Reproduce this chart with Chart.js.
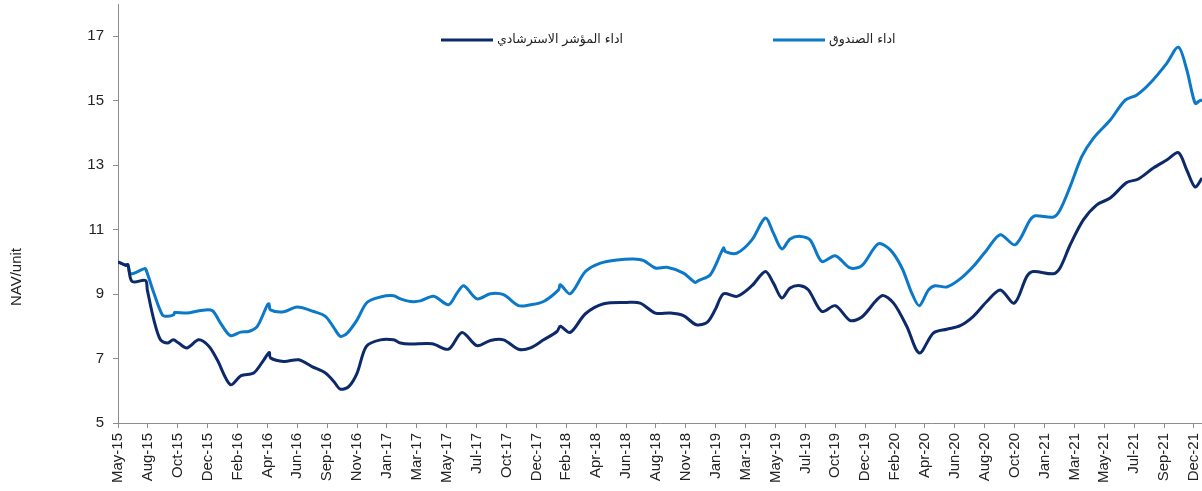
<!DOCTYPE html>
<html>
<head>
<meta charset="utf-8">
<script src="https://cdn.jsdelivr.net/npm/chart.js@4.4.1/dist/chart.umd.min.js"></script>
<style>
  body { margin: 0; background: #fff; }
  #wrap { width: 1202px; height: 491px; position: relative; }
</style>
</head>
<body>
<div id="wrap"><canvas id="navChart"></canvas></div>
<script>
// Etiquetas do eixo X (uma por marca)
const xTickLabels = ['May-15','Aug-15','Oct-15','Dec-15','Feb-16','Apr-16','Jun-16','Sep-16','Nov-16','Jan-17',
  'Mar-17','May-17','Jul-17','Oct-17','Dec-17','Feb-18','Apr-18','Jun-18','Aug-18','Nov-18',
  'Jan-19','Mar-19','May-19','Jul-19','Oct-19','Dec-19','Feb-20','Apr-20','Jun-20','Aug-20',
  'Oct-20','Jan-21','Mar-21','May-21','Jul-21','Sep-21','Dec-21'];

const yTickValues = [5, 7, 9, 11, 13, 15, 17];

// Desempenho do fundo (posição em unidades de marca do eixo X)
const fundX = [0,0.25,0.33,0.42,0.89,0.94,1.20,1.48,1.65,1.87,
  1.89,2.31,2.76,3.15,3.43,3.76,4.10,4.37,4.66,4.99,
  5.05,5.10,5.55,5.99,6.55,6.94,7.22,7.44,7.67,8.00,
  8.33,8.78,9.22,9.45,9.78,10.12,10.56,11.06,11.34,11.57,
  12.01,12.46,12.90,13.40,13.80,14.24,14.74,14.80,15.13,15.64,
  16.14,16.70,17.25,17.59,17.98,18.37,18.92,19.31,19.42,19.82,
  20.26,20.32,20.71,21.21,21.66,21.93,22.21,22.49,22.83,23.16,
  23.55,24.00,24.50,24.89,25.44,25.84,26.23,26.56,26.81,27.12,
  27.34,27.73,28.18,28.62,29.07,29.52,30.02,30.52,30.69,31.30,
  31.52,31.86,32.25,32.64,33.20,33.70,34.09,34.53,35.09,35.48,
  35.76,36.04,36.20,36.27];
const fundY = [10.0,9.91,9.91,9.63,9.79,9.75,9.03,8.36,8.31,8.36,
  8.43,8.41,8.49,8.49,8.10,7.71,7.82,7.84,8.0,8.65,
  8.70,8.51,8.45,8.60,8.46,8.31,7.96,7.69,7.79,8.20,
  8.74,8.91,8.95,8.85,8.77,8.79,8.93,8.67,9.03,9.26,
  8.85,9.01,8.98,8.64,8.67,8.77,9.13,9.29,9.01,9.70,
  9.96,10.06,10.09,10.04,9.81,9.83,9.65,9.36,9.42,9.60,
  10.43,10.32,10.27,10.68,11.36,10.89,10.40,10.71,10.79,10.68,
  10.01,10.19,9.81,9.88,10.56,10.37,9.81,9.03,8.64,9.13,
  9.26,9.22,9.47,9.86,10.37,10.84,10.53,11.30,11.43,11.39,
  11.61,12.34,13.27,13.84,14.40,15.02,15.18,15.54,16.16,16.66,
  15.96,14.92,15.0,15.02];

// Desempenho do índice de referência
const benchX = [0,0.25,0.33,0.47,0.92,0.98,1.20,1.42,1.65,1.85,
  2.03,2.31,2.70,3.04,3.32,3.76,4.12,4.54,4.88,5.06,
  5.10,5.55,6.05,6.49,6.94,7.22,7.44,7.72,8.00,8.31,
  8.78,9.22,9.45,9.78,10.51,11.06,11.51,12.01,12.46,12.90,
  13.40,13.80,14.24,14.69,14.80,15.13,15.64,16.25,17.03,17.47,
  17.98,18.48,18.92,19.35,19.71,19.98,20.26,20.71,21.21,21.66,
  21.93,22.21,22.49,22.83,23.10,23.55,24.00,24.50,24.89,25.56,
  25.95,26.39,26.81,27.28,27.73,28.18,28.62,29.07,29.52,29.99,
  30.41,30.63,31.30,31.52,31.86,32.30,32.75,33.20,33.75,34.14,
  34.64,35.09,35.48,35.76,36.04,36.27];
const benchY = [10.0,9.89,9.91,9.39,9.42,9.13,8.20,7.58,7.48,7.58,
  7.48,7.33,7.58,7.38,6.96,6.19,6.47,6.55,6.96,7.19,
  7.02,6.91,6.96,6.75,6.55,6.29,6.05,6.13,6.55,7.38,
  7.58,7.58,7.48,7.45,7.46,7.29,7.81,7.40,7.56,7.58,
  7.29,7.33,7.58,7.84,8.0,7.81,8.39,8.70,8.74,8.72,
  8.41,8.41,8.33,8.05,8.12,8.51,9.01,8.93,9.26,9.70,
  9.34,8.88,9.19,9.26,9.13,8.46,8.64,8.18,8.29,8.95,
  8.72,8.0,7.17,7.79,7.91,8.02,8.31,8.77,9.13,8.72,
  9.55,9.70,9.63,9.81,10.53,11.30,11.77,11.98,12.46,12.57,
  12.91,13.16,13.39,12.85,12.32,12.60];

const benchLabel = 'اداء المؤشر الاسترشادي';
const fundLabel = 'اداء الصندوق';
const yTitle = 'NAV/unit';

const axisColor = '#8c8c8c';
const textColor = '#222';

function toPoints(xs, ys) {
    return xs.map((x, i) => ({ x: x, y: ys[i] }));
}

// Legenda desenhada dentro da área do gráfico
const insideLegend = {
    id: 'insideLegend',
    afterDraw(chart) {
        const { ctx, chartArea } = chart;
        const offsets = [323, 655];
        const y = chartArea.top + 36;
        ctx.save();
        ctx.font = '12.5px "DejaVu Sans", sans-serif';
        ctx.textBaseline = 'middle';
        ctx.textAlign = 'left';
        chart.data.datasets.forEach((ds, i) => {
            const x0 = chartArea.left + offsets[i];
            ctx.strokeStyle = ds.borderColor;
            ctx.lineWidth = 3;
            ctx.beginPath();
            ctx.moveTo(x0, y);
            ctx.lineTo(x0 + 52, y);
            ctx.stroke();
            ctx.fillStyle = textColor;
            ctx.fillText(ds.label, x0 + 56, y);
        });
        ctx.restore();
    }
};

// Título do eixo Y (fora do centro, como no original)
const yTitlePlugin = {
    id: 'yTitlePlugin',
    afterDraw(chart) {
        const { ctx } = chart;
        ctx.save();
        ctx.translate(17, 277);
        ctx.rotate(-Math.PI / 2);
        ctx.font = '15px "Liberation Sans", Arial, sans-serif';
        ctx.fillStyle = textColor;
        ctx.textAlign = 'center';
        ctx.textBaseline = 'middle';
        ctx.fillText(yTitle, 0, 0);
        ctx.restore();
    }
};

const ctx = document.getElementById('navChart').getContext('2d');
new Chart(ctx, {
    type: 'line',
    data: {
        datasets: [{
            label: benchLabel,
            data: toPoints(benchX, benchY),
            borderColor: '#0c2a6a',
            borderWidth: 3,
            pointRadius: 0,
            tension: 0.3,
            fill: false
        }, {
            label: fundLabel,
            data: toPoints(fundX, fundY),
            borderColor: '#0b78c8',
            borderWidth: 3,
            pointRadius: 0,
            tension: 0.3,
            fill: false
        }]
    },
    options: {
        responsive: true,
        maintainAspectRatio: false,
        animation: false,
        layout: { padding: { top: 4, right: 0, left: 0, bottom: 0 } },
        scales: {
            x: {
                type: 'linear',
                min: 0,
                max: 36.27,
                afterBuildTicks: (s) => { s.ticks = xTickLabels.map((_, i) => ({ value: i })); },
                afterFit: (s) => { s.height = 68; s.paddingLeft = 0; s.paddingRight = 0; },
                grid: { drawOnChartArea: false, drawTicks: true, tickLength: 5, color: axisColor },
                border: { color: axisColor, width: 1 },
                ticks: {
                    autoSkip: false,
                    maxRotation: 90,
                    minRotation: 90,
                    padding: 5,
                    color: textColor,
                    font: { family: '"Liberation Sans", Arial, sans-serif', size: 15 },
                    callback: (v) => xTickLabels[Math.round(v)] || ''
                }
            },
            y: {
                min: 5,
                max: 18,
                afterBuildTicks: (s) => { s.ticks = yTickValues.map(v => ({ value: v })); },
                afterFit: (s) => { s.width = 118; s.paddingTop = 0; s.paddingBottom = 0; },
                grid: { drawOnChartArea: false, drawTicks: true, tickLength: 5, color: axisColor },
                border: { color: axisColor, width: 1 },
                ticks: {
                    padding: 9,
                    color: textColor,
                    font: { family: '"Liberation Sans", Arial, sans-serif', size: 15 }
                }
            }
        },
        plugins: {
            legend: { display: false },
            tooltip: { enabled: false }
        }
    },
    plugins: [insideLegend, yTitlePlugin]
});
</script>
</body>
</html>
